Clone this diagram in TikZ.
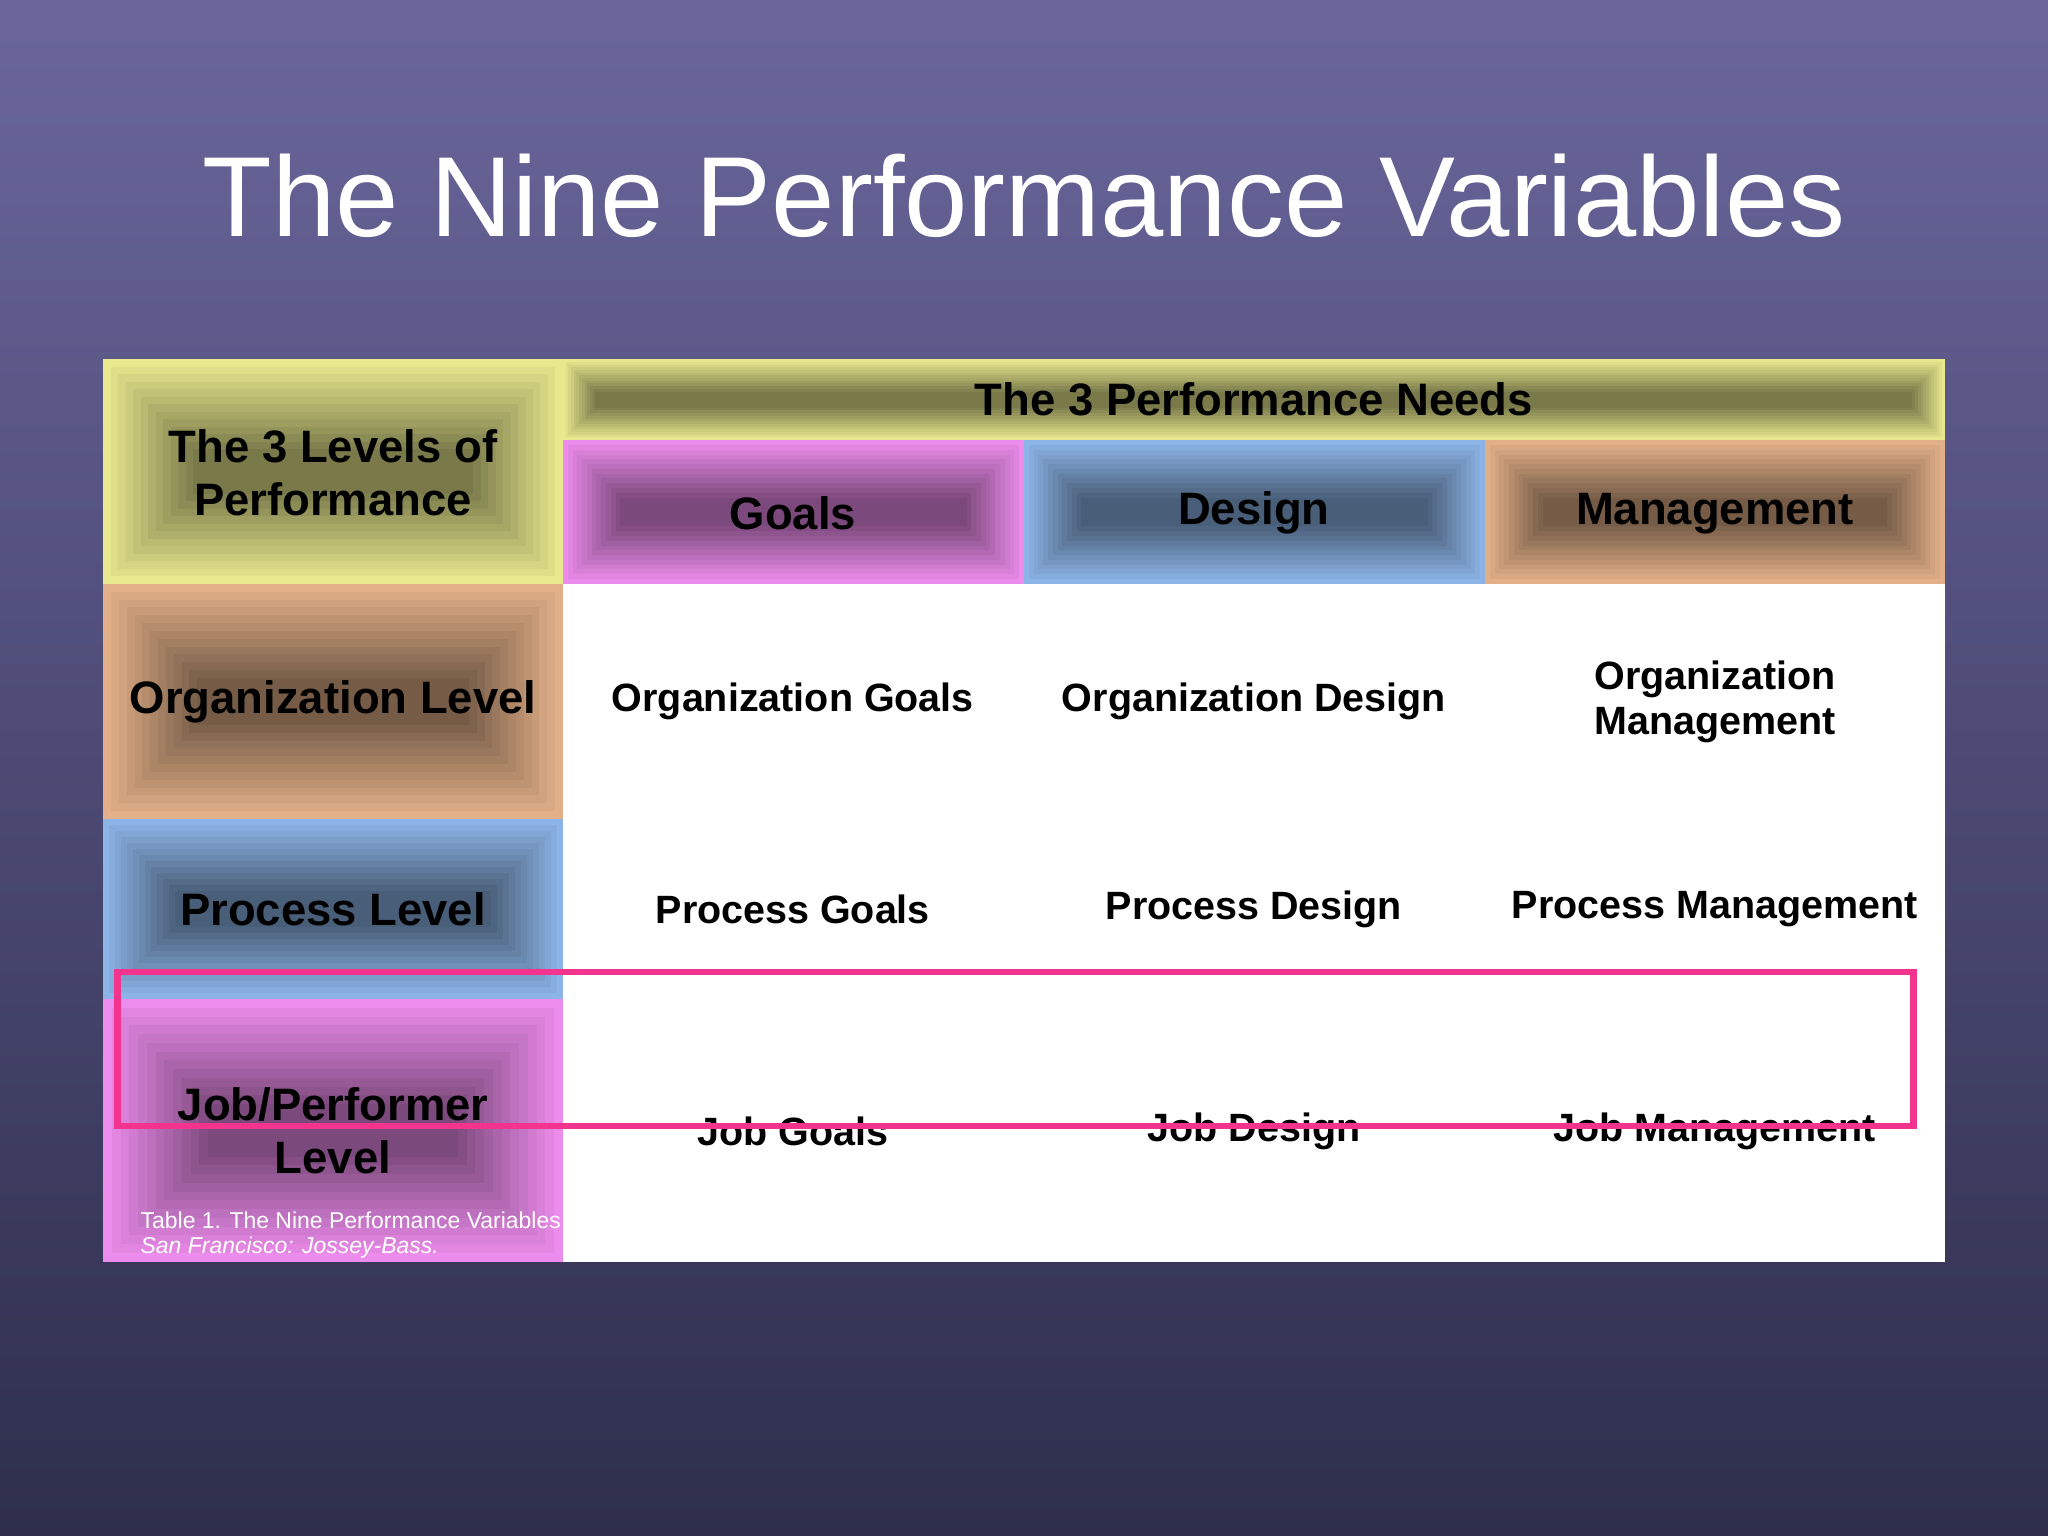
\documentclass[tikz,border=0pt]{standalone}
\usepackage{fontspec}
\setmainfont{Liberation Sans}
\definecolor{bgtop}{RGB}{106,102,156}
\definecolor{bgbot}{RGB}{46,46,76}
\definecolor{cyel}{RGB}{232,232,142}
\definecolor{cpink}{RGB}{236,140,236}
\definecolor{cblue}{RGB}{140,180,230}
\definecolor{corg}{RGB}{226,176,136}
\definecolor{hot}{RGB}{242,52,142}
\newcommand{\bevcell}[5]{% x1,y1,x2,y2,color
  \pgfmathsetmacro{\st}{min(#3-#1,#4-#2)/30}
  \foreach \i in {0,...,12}{
    \pgfmathsetmacro{\m}{100-\i*4}
    \fill[#5!\m!black] ({#1+\i*\st},{#2+\i*\st}) rectangle ({#3-\i*\st},{#4-\i*\st});
  }}
\tikzset{
  hdr/.style={font=\bfseries\fontsize{9.9}{11.5}\selectfont, align=center, text=black},
  cell/.style={font=\bfseries\fontsize{8.6}{9.8}\selectfont, align=center, text=black}
}
\begin{document}
\begin{tikzpicture}[x=0.1mm,y=-0.1mm]
\shade[top color=bgtop,bottom color=bgbot] (0,0) rectangle (1568,1176);
\useasboundingbox (0,0) rectangle (1568,1176);
\node[text=white,font=\fontsize{24.8}{27}\selectfont] (title) at (784,150) {The Nine Performance Variables};
\fill[white] (431,447) rectangle (1489,966);
\bevcell{79}{275}{431}{447}{cyel}
\bevcell{431}{275}{1489}{337}{cyel}
\bevcell{431}{337}{784}{447}{cpink}
\bevcell{784}{337}{1137}{447}{cblue}
\bevcell{1137}{337}{1489}{447}{corg}
\bevcell{79}{447}{431}{627}{corg}
\bevcell{79}{627}{431}{765}{cblue}
\bevcell{79}{765}{431}{966}{cpink}
\node[hdr] (lv) at (255,362) {The 3 Levels of\\Performance};
\node[hdr] (nd) at (960,306) {The 3 Performance Needs};
\node[hdr] (g) at (607,393) {Goals};
\node[hdr] (d) at (960,393) {Design};
\node[hdr] (m) at (1313,393) {Management};
\node[hdr] (ol) at (255,537) {Organization Level};
\node[hdr] (pl) at (255,696) {Process Level};
\node[hdr] (jl) at (255,866) {Job/Performer\\Level};
\node[cell] (og) at (607,537) {Organization Goals};
\node[cell] (od) at (960,537) {Organization Design};
\node[cell] (om) at (1313,537) {Organization\\Management};
\node[cell] (pg) at (607,696) {Process Goals};
\node[cell] (pd) at (960,696) {Process Design};
\node[cell] (pm) at (1313,696) {Process Management};
\node[cell] (jg) at (607,866) {Job Goals};
\node[cell] (jd) at (960,866) {Job Design};
\node[cell] (jm) at (1313,866) {Job Management};
\node[anchor=west,text=white,font=\fontsize{5}{5.5}\selectfont,inner sep=0] (fn1) at (107,934) {Table 1. The Nine Performance Variables};
\node[anchor=west,text=white,font=\itshape\fontsize{5}{5.5}\selectfont,inner sep=0] (fn2) at (107,955) {San Francisco: Jossey-Bass.};
\draw[hot,line width=0.5mm] (90,744) rectangle (1465,862);
\end{tikzpicture}
\end{document}
